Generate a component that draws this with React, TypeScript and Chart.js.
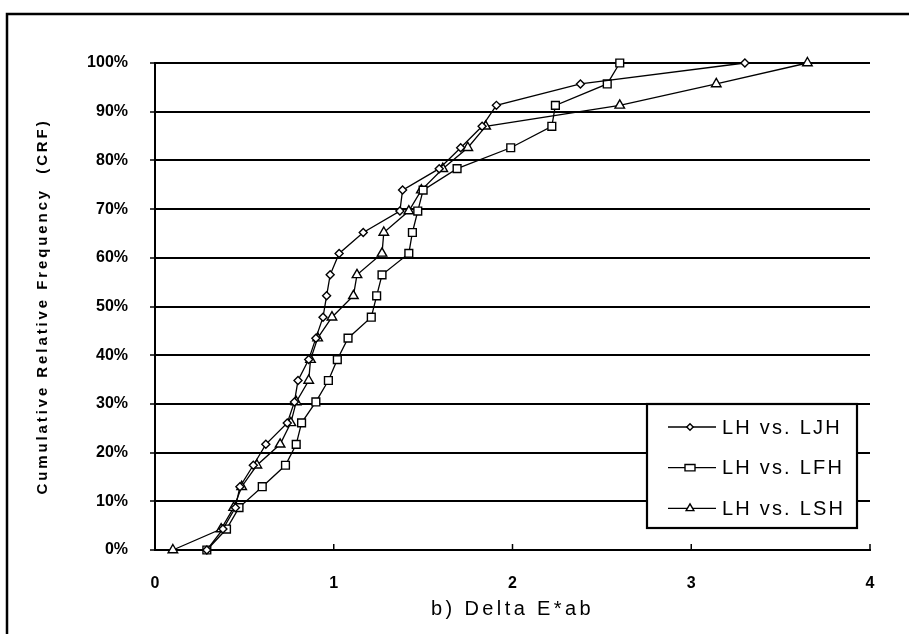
import React, { useEffect, useRef } from 'react';
import { Chart, registerables } from 'chart.js';

Chart.register(...registerables);

// Cumulative relative frequency levels (%), shared by all three series
const crf = [0, 4.3, 8.7, 13, 17.4, 21.7, 26.1, 30.4, 34.8, 39.1, 43.5, 47.8, 52.2, 56.5, 60.9, 65.2, 69.6, 73.9, 78.3, 82.6, 87, 91.3, 95.7, 100];

const seriesNames = ['LH vs. LJH', 'LH vs. LFH', 'LH vs. LSH'];

// Delta E*ab values per series
const deltaLJH = [0.29, 0.38, 0.45, 0.475, 0.55, 0.62, 0.74, 0.78, 0.80, 0.86, 0.90, 0.94, 0.96, 0.98, 1.03, 1.165, 1.37, 1.385, 1.59, 1.71, 1.83, 1.91, 2.38, 3.30];
const deltaLFH = [0.29, 0.40, 0.47, 0.60, 0.73, 0.79, 0.82, 0.90, 0.97, 1.02, 1.08, 1.21, 1.24, 1.27, 1.42, 1.44, 1.47, 1.50, 1.69, 1.99, 2.22, 2.24, 2.53, 2.60];
const deltaLSH = [0.10, 0.37, 0.44, 0.485, 0.57, 0.70, 0.76, 0.79, 0.86, 0.87, 0.91, 0.99, 1.11, 1.13, 1.27, 1.28, 1.42, 1.49, 1.61, 1.75, 1.85, 2.60, 3.14, 3.65];

const xTickValues = [0, 1, 2, 3, 4];
const yTickValues = [0, 10, 20, 30, 40, 50, 60, 70, 80, 90, 100];

const xTitle = 'b) Delta E*ab';
const yTitle = 'Cumulative Relative Frequency  (CRF)';

const FONT = '"Liberation Sans", Arial, Helvetica, sans-serif';

const pointStyles = ['rectRot', 'rect', 'triangle'];
const pointRadii = [4, 5.5, 5.5];

function drawMarker(ctx: CanvasRenderingContext2D, style: string, x: number, y: number) {
  ctx.beginPath();
  if (style === 'rectRot') {
    const r = 3.2;
    ctx.moveTo(x, y - r);
    ctx.lineTo(x + r, y);
    ctx.lineTo(x, y + r);
    ctx.lineTo(x - r, y);
    ctx.closePath();
  } else if (style === 'rect') {
    ctx.rect(x - 5, y - 3.2, 10, 6.4);
  } else {
    const r = 4.5;
    ctx.moveTo(x, y - r);
    ctx.lineTo(x + r * 0.866, y + r * 0.5);
    ctx.lineTo(x - r * 0.866, y + r * 0.5);
    ctx.closePath();
  }
  ctx.fillStyle = '#fff';
  ctx.fill();
  ctx.lineWidth = 1.4;
  ctx.strokeStyle = '#000';
  ctx.stroke();
}

const titleSpacing: Record<string, string> = { x: '3.4px', y: '2.9px' };

const framePlugin = {
  id: 'framePlugin',
  afterLayout(chart: any) {
    for (const id of ['x', 'y']) {
      const s = chart.scales[id];
      if (!s || s.__wrapped) continue;
      const origTitle = s.drawTitle;
      s.drawTitle = function (...args: any[]) {
        const c = this.ctx;
        c.save();
        c.letterSpacing = titleSpacing[id];
        origTitle.apply(this, args);
        c.restore();
      };
      s.__wrapped = true;
    }
  },
  beforeDraw(chart: any) {
    const ctx = chart.ctx as CanvasRenderingContext2D;
    ctx.save();
    ctx.strokeStyle = '#000';
    ctx.lineWidth = 2.5;
    ctx.beginPath();
    ctx.moveTo(7, chart.height);
    ctx.lineTo(7, 14);
    ctx.lineTo(chart.width, 14);
    ctx.stroke();
    ctx.restore();
  },
  afterDraw(chart: any) {
    const ctx = chart.ctx as CanvasRenderingContext2D;
    const ca = chart.chartArea;
    const xs = chart.scales.x;
    ctx.save();
    // inward tick marks on the x axis
    ctx.strokeStyle = '#000';
    ctx.lineWidth = 1.5;
    xs.ticks.forEach((t: any) => {
      const px = xs.getPixelForValue(t.value);
      ctx.beginPath();
      ctx.moveTo(px, ca.bottom);
      ctx.lineTo(px, ca.bottom - 6);
      ctx.stroke();
    });

    // legend box inside the plot area, bottom right
    const bw = 210;
    const bh = 124;
    const bx = ca.right - 13 - bw;
    const by = ca.bottom - 22 - bh;
    ctx.fillStyle = '#fff';
    ctx.fillRect(bx, by, bw, bh);
    ctx.lineWidth = 2.2;
    ctx.strokeStyle = '#000';
    ctx.strokeRect(bx, by, bw, bh);
    chart.data.datasets.forEach((ds: any, i: number) => {
      const cy = by + 23 + i * 40.7;
      ctx.beginPath();
      ctx.moveTo(bx + 21, cy);
      ctx.lineTo(bx + 69, cy);
      ctx.lineWidth = 1.3;
      ctx.strokeStyle = '#000';
      ctx.stroke();
      drawMarker(ctx, pointStyles[i], bx + 43, cy);
      ctx.fillStyle = '#000';
      ctx.font = `20px ${FONT}`;
      (ctx as any).letterSpacing = '2.2px';
      ctx.textAlign = 'left';
      ctx.textBaseline = 'middle';
      ctx.fillText(ds.label, bx + 75, cy + 1);
      (ctx as any).letterSpacing = '0px';
    });
    ctx.restore();
  },
};

export default function App() {
  const canvasRef = useRef<HTMLCanvasElement | null>(null);

  useEffect(() => {
    if (!canvasRef.current) return;
    const seriesX = [deltaLJH, deltaLFH, deltaLSH];
    const datasets = seriesX.map((xs, i) => ({
      label: seriesNames[i],
      data: xs.map((x, k) => ({ x, y: crf[k] })),
      showLine: true,
      borderColor: '#000',
      borderWidth: 1.3,
      pointStyle: pointStyles[i] as any,
      pointRadius: pointRadii[i],
      pointBackgroundColor: '#fff',
      pointBorderColor: '#000',
      pointBorderWidth: 1.4,
      tension: 0,
      clip: false as any,
    }));

    const chart = new Chart(canvasRef.current, {
      type: 'scatter',
      data: { datasets },
      options: {
        responsive: false,
        animation: false,
        events: [],
        layout: { padding: { left: 0, right: 39, top: 63, bottom: 0 } },
        plugins: {
          legend: { display: false },
          tooltip: { enabled: false },
        },
        scales: {
          x: {
            type: 'linear',
            min: 0,
            max: 4,
            afterFit: (s: any) => { s.height = 84; },
            afterBuildTicks: (s: any) => { s.ticks = xTickValues.map((v) => ({ value: v })); },
            ticks: {
              color: '#000',
              font: { family: FONT, size: 16, weight: 'bold' },
              padding: 24,
              maxRotation: 0,
              callback: (v: any) => String(v),
            },
            grid: { display: false, drawTicks: false },
            border: { display: true, color: '#000', width: 2 },
            title: {
              display: true,
              text: xTitle,
              color: '#000',
              font: { family: FONT, size: 20, weight: 'normal' },
              padding: { top: 0, bottom: 13 },
            },
          },
          y: {
            type: 'linear',
            min: 0,
            max: 100,
            afterFit: (s: any) => { s.width = 155; },
            afterBuildTicks: (s: any) => { s.ticks = yTickValues.map((v) => ({ value: v })); },
            ticks: {
              color: '#000',
              font: { family: FONT, size: 16, weight: 'bold' },
              padding: 22,
              crossAlign: 'near',
              callback: (v: any) => `${v}%`,
            },
            grid: { display: true, color: '#000', lineWidth: 2, drawTicks: true, tickLength: 5, tickColor: '#000', tickWidth: 1.5 },
            border: { display: true, color: '#000', width: 2 },
            title: {
              display: true,
              text: yTitle,
              color: '#000',
              font: { family: FONT, size: 15, weight: 'bold' },
              padding: { top: 34, bottom: 0 },
            },
          },
        },
      },
      plugins: [framePlugin],
    });
    return () => chart.destroy();
  }, []);

  return (
    <div style={{ position: 'fixed', left: 0, top: 0, width: 909, height: 634, background: '#fff' }}>
      <canvas ref={canvasRef} width={909} height={634} style={{ display: 'block', width: 909, height: 634 }} />
    </div>
  );
}
